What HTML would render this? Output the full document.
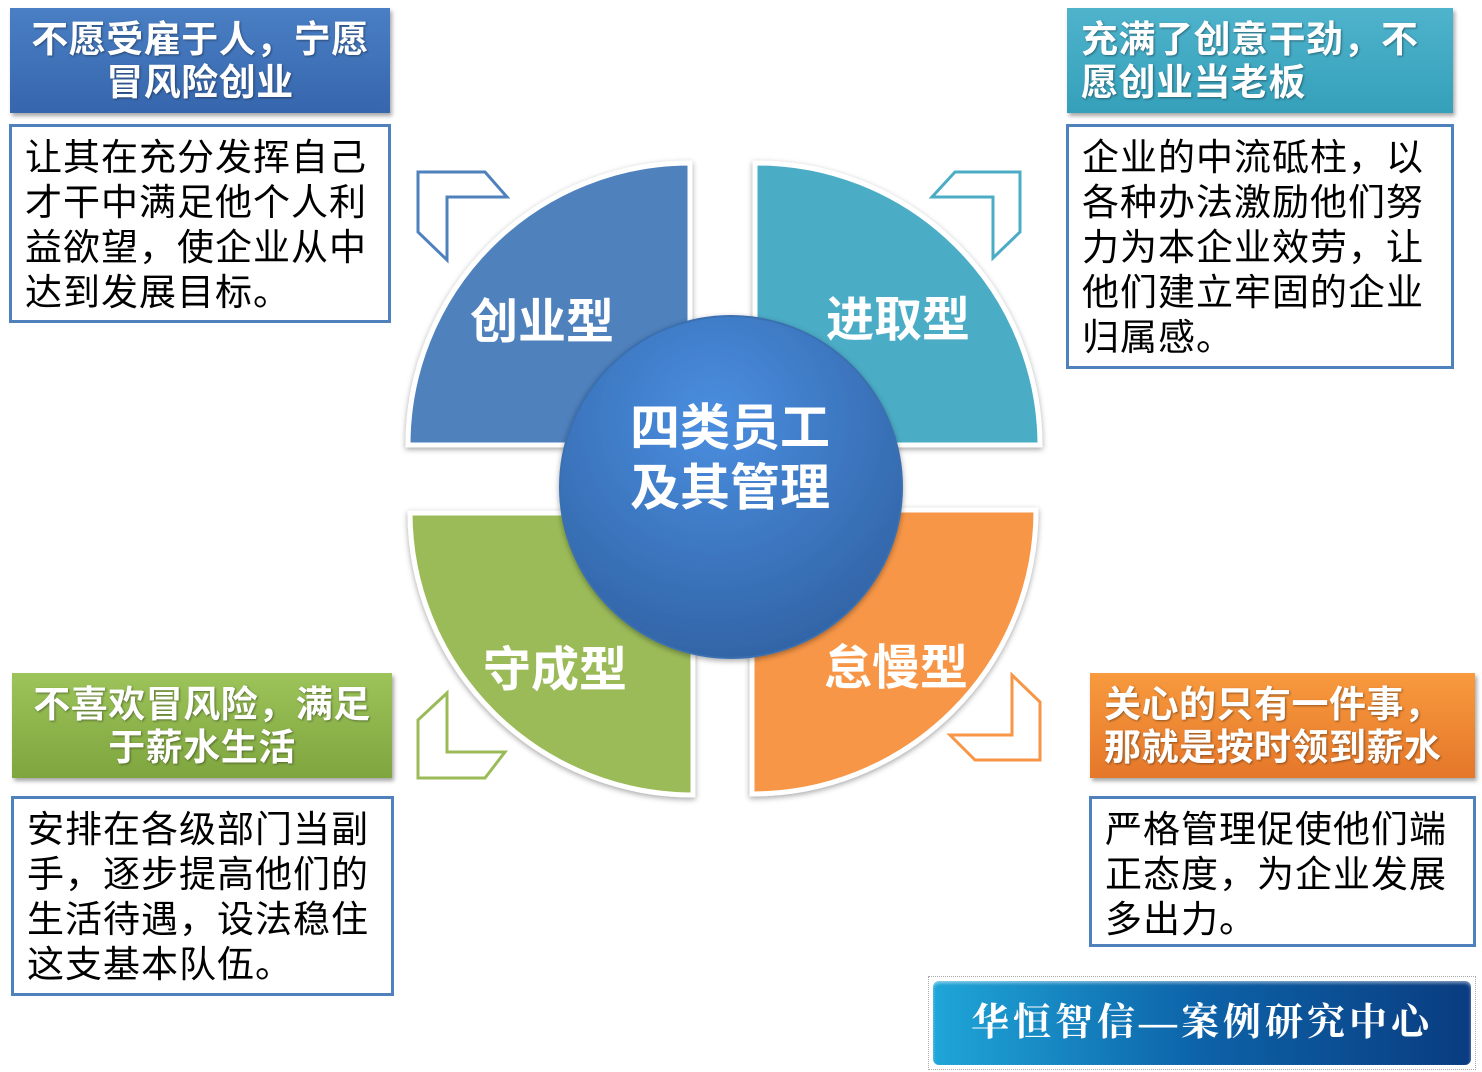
<!DOCTYPE html>
<html><head><meta charset="utf-8"><style>
body{margin:0;width:1482px;height:1072px;background:#fff;position:relative;overflow:hidden;font-family:"Liberation Sans","Noto Sans CJK SC",sans-serif}
.h{position:absolute;color:#fff;font-weight:bold;font-size:37px;line-height:43px;box-shadow:2px 3px 4px rgba(0,0,0,.35);text-shadow:1px 1px 2px rgba(0,0,0,.4);box-sizing:border-box;padding-top:10px;letter-spacing:0.5px}
.b{position:absolute;border:3px solid #4f81bd;box-sizing:border-box;font-size:37px;line-height:45px;color:#000;padding:8px 0 0 13px;background:#fff;letter-spacing:1px}
svg{position:absolute;left:0;top:0}
</style></head><body>
<svg width="1482" height="1072">
<defs>
<radialGradient id="cg" cx="0.45" cy="0.3" r="0.8"><stop offset="0" stop-color="#4a8ee0"/><stop offset="1" stop-color="#2f5f9f"/></radialGradient>
<filter id="sh" x="-20%" y="-20%" width="140%" height="140%"><feDropShadow dx="0" dy="2" stdDeviation="3" flood-opacity="0.35"/></filter>
</defs>
<g stroke="#fff" stroke-width="5" filter="url(#sh)">
<path d="M690,445 L408,445 A282,282 0 0 1 690,163 Z" fill="#4f81bd"/>
<path d="M755,445 L755,163 A283,283 0 0 1 1040,445 Z" fill="#4bacc6"/>
<path d="M693,513 L693,795 A283,283 0 0 1 410,513 Z" fill="#9bbb59"/>
<path d="M752,510 L1036,510 A284,284 0 0 1 752,794 Z" fill="#f79646"/>
</g>
<circle cx="731" cy="487" r="171" fill="url(#cg)" stroke="#3a6fb0" stroke-width="2" filter="url(#sh)"/>
<g fill="#fff" stroke-width="3">
<polygon points="418,172 485,172 507,197 447,197 447,260 418,232" stroke="#4f81bd"/>
<polygon points="1020,172 955,172 932,197 993,197 993,258 1020,232" stroke="#4bacc6"/>
<polygon points="418,778 485,778 505,752 447,752 447,693 418,720" stroke="#9bbb59"/>
<polygon points="1040,760 975,760 950,735 1012,735 1012,675 1040,702" stroke="#f79646"/>
</g>
<g fill="#fff" font-family="Liberation Sans,Noto Sans CJK SC,sans-serif" font-weight="bold" font-size="48">
<text x="470" y="338">创业型</text>
<text x="826" y="336">进取型</text>
<text x="483" y="686">守成型</text>
<text x="824" y="684">怠慢型</text>
<text x="630" y="445" font-size="50">四类员工</text>
<text x="630" y="505" font-size="50">及其管理</text>
</g>
</svg>
<div class="h" style="left:10px;top:8px;width:380px;height:105px;background:linear-gradient(#4a7fc4,#3666ad);text-align:center">不愿受雇于人，宁愿<br>冒风险创业</div>
<div class="b" style="left:9px;top:124px;width:382px;height:199px">让其在充分发挥自己<br>才干中满足他个人利<br>益欲望，使企业从中<br>达到发展目标。</div>
<div class="h" style="left:1067px;top:8px;width:386px;height:105px;background:linear-gradient(#4fb3cc,#35a0ba);padding-left:14px">充满了创意干劲，不<br>愿创业当老板</div>
<div class="b" style="left:1066px;top:124px;width:388px;height:245px">企业的中流砥柱，以<br>各种办法激励他们努<br>力为本企业效劳，让<br>他们建立牢固的企业<br>归属感。</div>
<div class="h" style="left:12px;top:673px;width:380px;height:105px;background:linear-gradient(#9cc45a,#7fa53e);text-align:center">不喜欢冒风险，满足<br>于薪水生活</div>
<div class="b" style="left:11px;top:796px;width:383px;height:200px">安排在各级部门当副<br>手，逐步提高他们的<br>生活待遇，设法稳住<br>这支基本队伍。</div>
<div class="h" style="left:1090px;top:673px;width:385px;height:105px;background:linear-gradient(#f89a3e,#e5772a);padding-left:14px">关心的只有一件事，<br>那就是按时领到薪水</div>
<div class="b" style="left:1089px;top:796px;width:387px;height:151px">严格管理促使他们端<br>正态度，为企业发展<br>多出力。</div>
<div style="position:absolute;left:928px;top:976px;width:548px;height:94px;border:1px dotted #aaa;box-sizing:border-box;padding:4px">
<div style="height:84px;border-radius:6px;background:linear-gradient(90deg,#1fa6d8,#0d62a8 50%,#0a3c80);color:#fff;font-family:'Liberation Serif','Noto Serif CJK SC',serif;font-weight:bold;font-size:38px;line-height:84px;text-align:center;letter-spacing:4px;box-shadow:inset 0 2px 3px rgba(255,255,255,.5)">华恒智信—案例研究中心</div>
</div>
</body></html>
